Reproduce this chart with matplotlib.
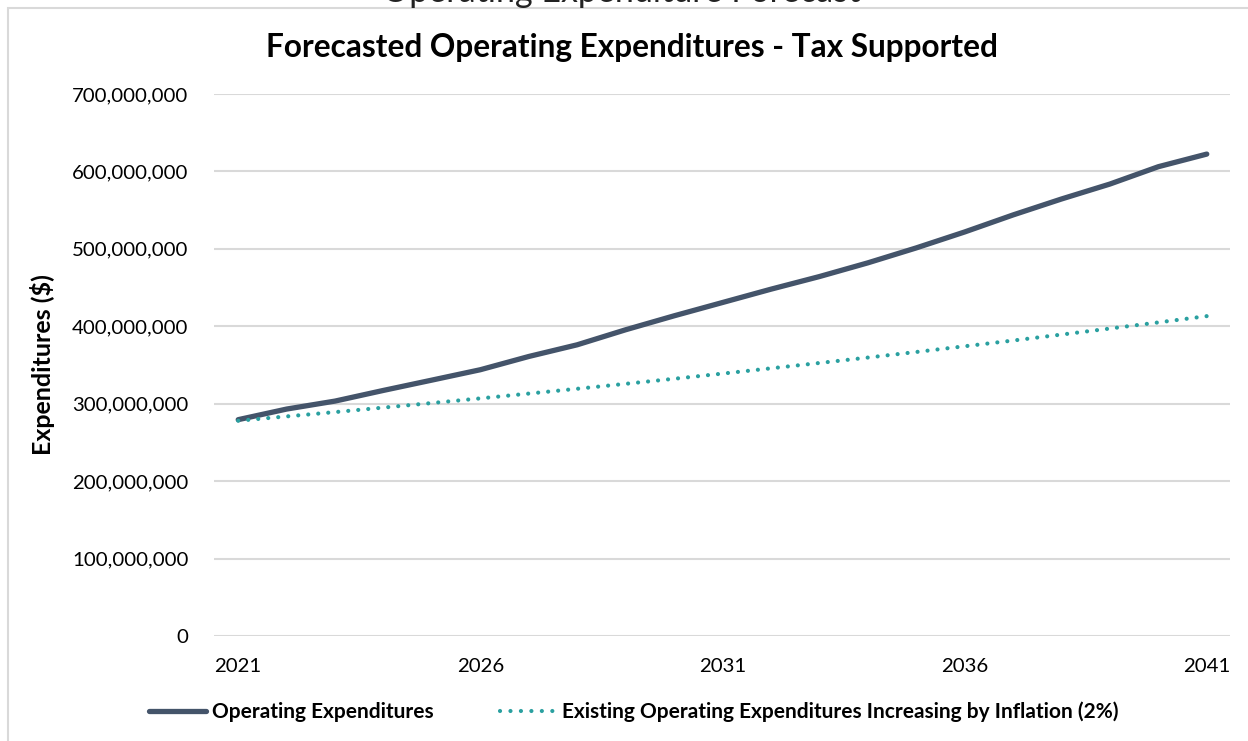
import matplotlib.pyplot as plt
from matplotlib.lines import Line2D
from matplotlib.patches import Rectangle
from matplotlib.ticker import FuncFormatter

plt.rcParams['font.family'] = ['Lato', 'DejaVu Sans']

# Forecast years and expenditures (dollars)
years = list(range(2021, 2042))
operating = [279.4e6, 293.1e6, 303.4e6, 317.2e6, 330.5e6, 343.9e6, 361.0e6,
             376.1e6, 395.5e6, 413.5e6, 430.7e6, 447.9e6, 464.2e6, 481.9e6,
             501.2e6, 521.8e6, 543.8e6, 564.4e6, 583.7e6, 606.1e6, 622.4e6]
inflation = [278.0e6, 283.6e6, 289.2e6, 295.0e6, 300.9e6, 306.9e6, 313.1e6,
             319.3e6, 325.7e6, 332.2e6, 338.9e6, 345.7e6, 352.6e6, 359.6e6,
             366.8e6, 374.2e6, 381.6e6, 389.3e6, 397.1e6, 405.0e6, 413.1e6]
xticks = [2021, 2026, 2031, 2036, 2041]
yticks = [0, 100e6, 200e6, 300e6, 400e6, 500e6, 600e6, 700e6]

dark = '#44546A'
teal = '#2AA0A0'
grid = '#D9D9D9'

fig = plt.figure(figsize=(12.48, 7.41), dpi=100)

# chart frame, partly cut at right and bottom
fig.patches.append(Rectangle((8 / 1248, -0.05), 1.1, 1 - 7.5 / 741 + 0.05,
                             transform=fig.transFigure, fill=False,
                             edgecolor='#D9D9D9', linewidth=1.5))
fig.text(0.498, 1 - 2 / 741, 'Operating Expenditure Forecast', ha='center',
         va='baseline', fontsize=24.5, color='#222222')

ax = fig.add_axes([214 / 1248, 1 - 636 / 741, 1016 / 1248, 542 / 741])
ax.plot(years, operating, color=dark, linewidth=3.8, solid_capstyle='round',
        label='Operating Expenditures', zorder=3)
ax.plot(years, inflation, color=teal, linewidth=3.0, dashes=(0.01, 2.4),
        dash_capstyle='round',
        label='Existing Operating Expenditures Increasing by Inflation (2%)',
        zorder=3)

ax.set_xlim(2020.5, 2041.48)
ax.set_ylim(0, 700e6)
ax.set_xticks(xticks)
ax.set_yticks(yticks)
ax.yaxis.set_major_formatter(FuncFormatter(lambda v, p: f'{v:,.0f}'))
ax.grid(axis='y', color=grid, linewidth=1.5)
ax.set_axisbelow(True)
for s in ax.spines.values():
    s.set_visible(False)
ax.tick_params(length=0, labelsize=14.7, colors='black')
ax.tick_params(axis='y', pad=18.5)
ax.tick_params(axis='x', pad=15.5)

ax.set_ylabel('Expenditures ($)', fontsize=18, fontweight='bold', labelpad=12)
fig.text(0.506, 1 - 47 / 741, 'Forecasted Operating Expenditures - Tax Supported',
         ha='center', va='center', fontsize=22.8, fontweight='bold')

handles = [Line2D([], [], color=dark, linewidth=3.8, solid_capstyle='round'),
           Line2D([], [], color=teal, linewidth=3.0, dashes=(0.01, 2.5),
                  dash_capstyle='round')]
labels = ['Operating Expenditures',
          'Existing Operating Expenditures Increasing by Inflation (2%)']
fig.legend(handles, labels, loc='center', bbox_to_anchor=(0.508, 1 - 712 / 741),
           ncol=2, frameon=False, handlelength=2.75, handletextpad=0.25,
           columnspacing=3.2, prop={'weight': 'bold', 'size': 15})

fig.savefig('out.png', dpi=100)
